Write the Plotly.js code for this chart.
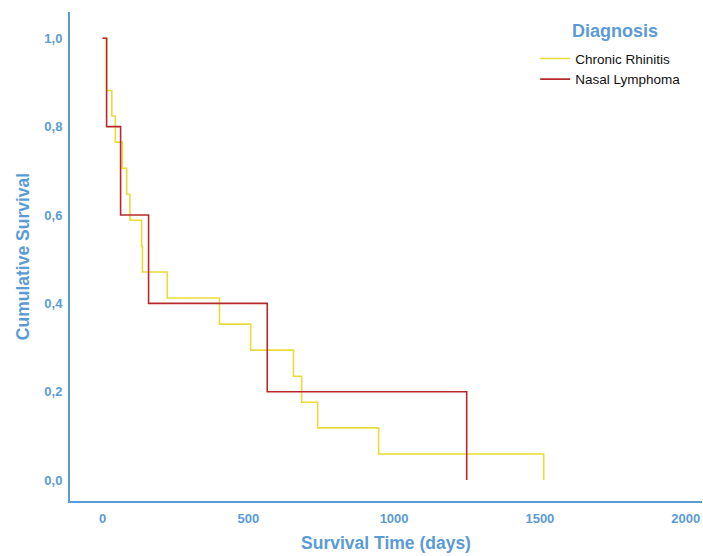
<!DOCTYPE html>
<html>
<head>
<meta charset="utf-8">
<script src="https://cdn.plot.ly/plotly-3.0.1.min.js"></script>
<style>html,body{margin:0;padding:0;background:#fff;}#chart{width:703px;height:556px;}</style>
</head>
<body>
<div id="chart"></div>
<script>
// Kaplan-Meier step data
const rhinitisTimes = [0, 14, 32, 44, 68, 83, 94, 134, 137, 222, 401, 508, 655, 683, 738, 947, 1513];
const rhinitisSurv  = [1, 0.882, 0.824, 0.765, 0.706, 0.647, 0.588, 0.529, 0.471, 0.412, 0.353, 0.294, 0.235, 0.176, 0.118, 0.059, 0];
const lymphomaTimes = [0, 14, 62, 158, 565, 1249];
const lymphomaSurv  = [1, 0.8, 0.6, 0.4, 0.2, 0];
const seriesNames = ["Chronic Rhinitis", "Nasal Lymphoma"];
const legendTitle = "Diagnosis";
const xTicks = [0, 500, 1000, 1500, 2000];
const yTicks = [0, 0.2, 0.4, 0.6, 0.8, 1.0];

const blue = '#5B9BD5';
const tickFont = {family: 'Liberation Sans Narrow, Liberation Sans, Arial, sans-serif', size: 13, color: blue, weight: 'bold'};
const traces = [
  {x: rhinitisTimes, y: rhinitisSurv, name: seriesNames[0], type: 'scatter', mode: 'lines',
   line: {shape: 'hv', color: '#E8DC38', width: 1.6}},
  {x: lymphomaTimes, y: lymphomaSurv, name: seriesNames[1], type: 'scatter', mode: 'lines',
   line: {shape: 'hv', color: '#B8282B', width: 1.6}}
];
const layout = {
  width: 703, height: 556,
  margin: {l: 70, r: 1, t: 12, b: 55},
  paper_bgcolor: '#fff', plot_bgcolor: '#fff',
  separators: ',.',
  font: {family: 'Liberation Sans, Arial, sans-serif'},
  xaxis: {
    range: [-111.5, 2056], tickvals: xTicks, showgrid: false, zeroline: false,
    showline: true, linecolor: blue, linewidth: 2, mirror: false,
    ticks: 'outside', ticklen: 4, tickcolor: 'rgba(0,0,0,0)',
    tickfont: tickFont,
    title: {text: 'Survival Time (days)', font: {size: 17.5, color: blue, weight: 'bold'}, standoff: 12}
  },
  yaxis: {
    range: [-0.0475, 1.0596], tickvals: yTicks, tickformat: '.1f', showgrid: false, zeroline: false,
    showline: true, linecolor: blue, linewidth: 2,
    ticks: 'outside', ticklen: 3, tickcolor: 'rgba(0,0,0,0)',
    tickfont: tickFont,
    title: {text: 'Cumulative Survival', font: {size: 17.5, color: blue, weight: 'bold'}, standoff: 10}
  },
  legend: {
    x: 0.736, y: 0.936, xanchor: 'left', yanchor: 'top',
    bgcolor: 'rgba(0,0,0,0)', borderwidth: 0,
    font: {size: 13.5, color: '#111'},
    tracegroupgap: 0, itemwidth: 30
  },
  annotations: [{
    text: legendTitle, xref: 'paper', yref: 'paper', x: 0.863, y: 0.961,
    xanchor: 'center', yanchor: 'middle', showarrow: false,
    font: {size: 18, color: blue, weight: 'bold'}
  }],
  showlegend: true
};
Plotly.newPlot('chart', traces, layout, {displayModeBar: false, staticPlot: true});
</script>
</body>
</html>
